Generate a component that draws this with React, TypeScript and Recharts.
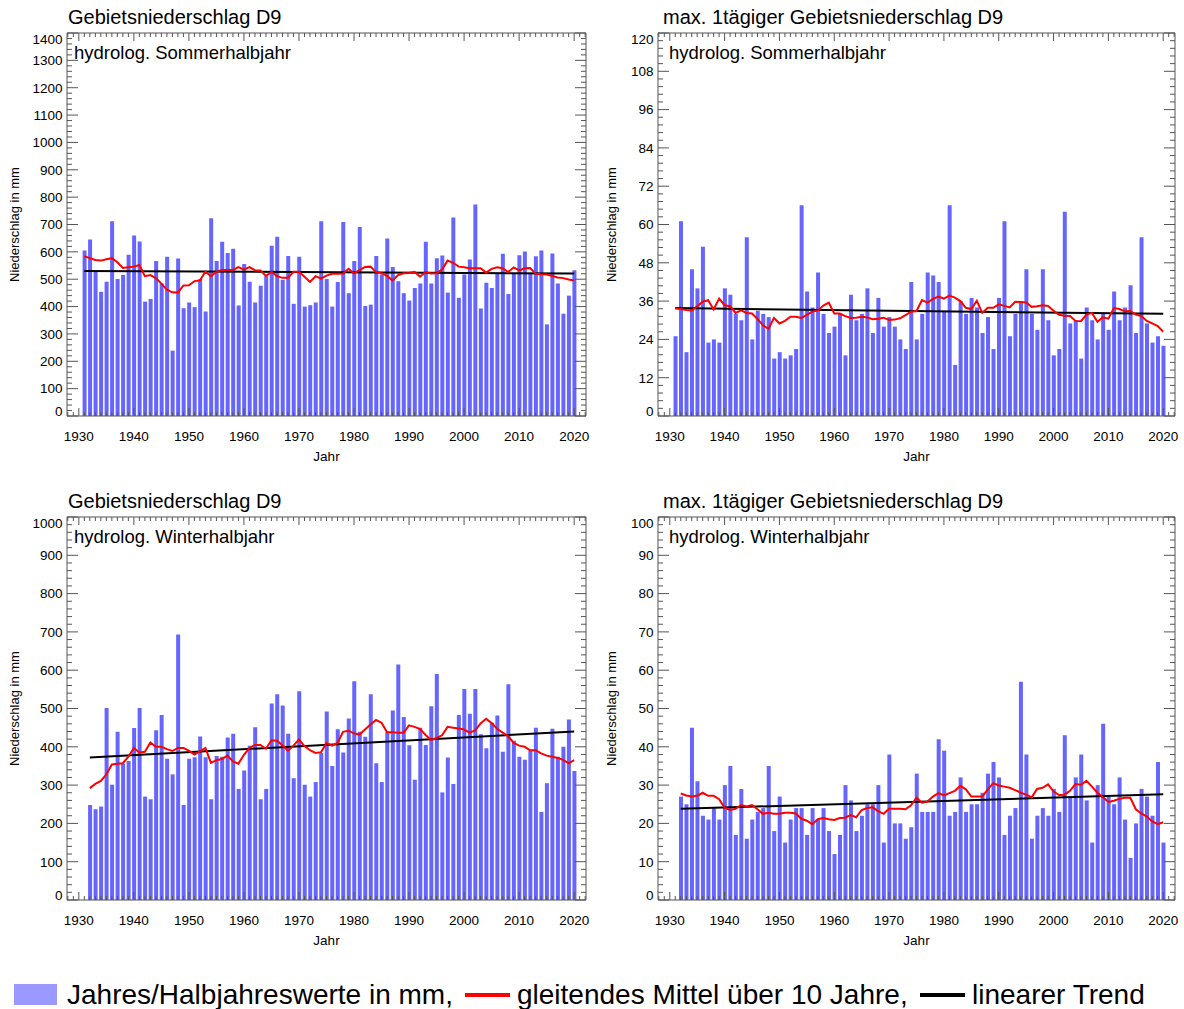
import React from "react";
import { ComposedChart, Bar, Line, XAxis, YAxis } from "recharts";

const FONT = '"Liberation Sans", Arial, Helvetica, sans-serif';
const BAR = "#6666ff";
const AXIS = "#555555";
const X_DOMAIN: [number, number] = [1927.85, 2022.15];

// Sommerhalbjahr 1931-2020
const SUMMER_START = 1931;
const summerTotal = [
  605, 645, 526, 454, 491, 712, 501, 515, 589, 660,
  638, 418, 428, 567, 485, 582, 239, 576, 394, 415,
  398, 501, 382, 723, 567, 637, 596, 611, 404, 556,
  491, 415, 476, 511, 622, 655, 498, 585, 410, 582,
  400, 405, 415, 712, 501, 400, 490, 709, 449, 567,
  691, 402, 407, 585, 517, 649, 545, 493, 449, 422,
  468, 484, 637, 484, 577, 587, 451, 726, 432, 517,
  572, 773, 393, 487, 468, 520, 593, 446, 520, 588,
  601, 520, 584, 605, 335, 594, 484, 374, 440, 533,
];
const summerTotalMean = [
  584, 577, 570, 568, 573, 577, 562, 541, 544, 546,
  552, 511, 515, 504, 484, 462, 452, 451, 477, 478,
  493, 495, 528, 511, 527, 534, 534, 534, 544, 535,
  544, 533, 532, 512, 527, 511, 505, 505, 527, 527,
  509, 490, 511, 502, 513, 520, 520, 521, 538, 521,
  533, 545, 546, 526, 522, 512, 495, 515, 522, 523,
  527, 509, 526, 521, 522, 535, 568, 560, 546, 544,
  540, 540, 540, 524, 538, 544, 540, 526, 543, 532,
  540, 541, 520, 518, 517, 512, 506, 504, 499, 495,
];
const summerTotalTrend = [530, 521];

const summerMax = [
  25, 61, 20, 46, 40, 53, 23, 24, 23, 40,
  38, 32, 30, 56, 24, 33, 32, 31, 18, 20,
  18, 19, 21, 66, 39, 34, 45, 32, 26, 28,
  32, 19, 38, 30, 32, 40, 26, 37, 28, 31,
  28, 24, 21, 42, 24, 32, 45, 44, 42, 33,
  66, 16, 36, 32, 37, 34, 26, 31, 21, 37,
  61, 25, 32, 36, 46, 32, 27, 46, 30, 19,
  21, 64, 29, 30, 18, 34, 30, 24, 32, 27,
  39, 30, 34, 41, 26, 56, 29, 23, 25, 22,
];
const summerMaxMean = [
  33.7, 33.5, 33.2, 33.1, 34.4, 35.8, 36.3, 33.4, 36.8, 34.7,
  34.4, 32.3, 33.1, 32.3, 32.1, 30.4, 28.4, 27.3, 30.7, 29.0,
  29.8, 31.1, 31.1, 30.7, 31.7, 32.7, 33.0, 34.6, 35.5, 32.1,
  32.1, 31.3, 30.7, 30.8, 31.1, 30.9, 30.3, 30.5, 30.8, 30.1,
  30.2, 30.6, 31.6, 32.7, 32.9, 36.3, 35.5, 36.7, 37.4, 36.8,
  37.7, 37.1, 36.0, 33.9, 33.5, 36.1, 32.3, 33.9, 33.9, 35.0,
  34.5, 34.0, 35.8, 35.7, 35.6, 34.2, 34.4, 34.7, 34.5, 33.0,
  31.7, 31.4, 31.3, 29.8, 29.7, 31.8, 32.3, 29.5, 30.9, 30.5,
  33.8, 33.5, 32.8, 32.9, 31.8, 31.3, 29.8, 29.0, 28.2, 26.4,
];
const summerMaxTrend = [33.8, 32.0];

// Winterhalbjahr 1932-2020
const WINTER_START = 1932;
const winterTotal = [
  248, 237, 244, 501, 301, 439, 356, 363, 449, 501,
  270, 263, 443, 483, 369, 328, 693, 248, 369, 373,
  427, 373, 263, 376, 374, 424, 434, 290, 338, 403,
  451, 263, 290, 513, 537, 508, 434, 318, 545, 301,
  270, 308, 384, 492, 350, 446, 385, 474, 571, 439,
  426, 537, 357, 308, 438, 495, 615, 478, 404, 314,
  450, 405, 506, 590, 281, 372, 303, 483, 551, 486,
  551, 433, 396, 463, 482, 387, 563, 416, 374, 366,
  391, 450, 230, 305, 447, 374, 400, 471, 337,
];
const winterTotalMean = [
  292, 303, 311, 328, 354, 356, 357, 374, 397, 385,
  387, 411, 400, 400, 394, 389, 397, 397, 390, 380,
  388, 397, 358, 365, 368, 377, 362, 356, 379, 397,
  405, 405, 395, 417, 416, 404, 390, 403, 419, 402,
  391, 384, 386, 410, 403, 410, 439, 442, 435, 432,
  445, 458, 470, 463, 438, 438, 437, 437, 456, 452,
  446, 431, 418, 423, 430, 452, 450, 448, 445, 437,
  443, 461, 473, 462, 447, 437, 428, 410, 403, 400,
  391, 391, 383, 377, 374, 371, 366, 357, 365,
];
const winterTotalTrend = [372, 440];

const winterMax = [
  27, 25, 45, 31, 22, 21, 24, 21, 30, 35,
  17, 29, 16, 21, 23, 24, 35, 18, 27, 15,
  21, 24, 24, 17, 24, 21, 24, 18, 12, 17,
  30, 26, 18, 22, 25, 25, 30, 15, 38, 20,
  20, 16, 19, 33, 23, 23, 23, 42, 39, 22,
  23, 32, 23, 25, 25, 28, 33, 36, 32, 17,
  22, 24, 57, 38, 16, 22, 24, 22, 29, 23,
  43, 27, 32, 38, 26, 15, 30, 46, 27, 25,
  32, 21, 11, 20, 29, 27, 22, 36, 15,
];
const winterMaxMean = [
  27.8, 27.3, 27.0, 27.2, 28.0, 27.2, 27.2, 26.3, 24.1, 23.5,
  23.8, 24.8, 24.4, 24.8, 23.7, 22.5, 22.8, 22.5, 22.5, 22.8,
  22.8, 22.6, 21.2, 20.7, 19.8, 21.1, 21.4, 21.1, 20.9, 21.4,
  21.5, 22.2, 21.6, 23.5, 24.0, 24.2, 23.2, 22.5, 23.8, 23.8,
  23.8, 23.7, 24.7, 26.7, 25.4, 25.7, 27.0, 27.9, 27.3, 27.9,
  28.5, 29.8, 28.9, 27.0, 27.0, 27.0, 28.9, 30.5, 29.9, 29.6,
  29.3, 28.7, 28.0, 27.5, 26.8, 29.0, 29.3, 30.2, 28.3, 27.4,
  27.5, 28.5, 30.3, 30.1, 31.1, 29.6, 28.0, 26.8, 25.6, 25.9,
  26.4, 26.7, 26.7, 23.7, 22.6, 21.8, 20.5, 19.8, 20.3,
];
const winterMaxTrend = [23.8, 27.6];

// one tick per year on the frame, labelled every decade
const YEAR_TICKS = Array.from({ length: 95 }, (_, i) => 1928 + i);

const PAD_L = 60;
const PAD_T = 10;
const PAD_R = 10;
const PAD_B = 40;
const EDGE = 1; // thickness reserved for top axis and right axis

type PanelProps = {
  plotLeft: number;
  plotTop: number;
  plotWidth: number;
  plotHeight: number;
  startYear: number;
  values: number[];
  mean: number[];
  trend: number[];
  yMax: number;
  yMajor: number;
  yMinor: number;
};

function Panel(p: PanelProps) {
  const last = p.values.length - 1;
  const rows = p.values.map((v, i) => ({
    year: p.startYear + i,
    value: v,
    mean: p.mean[i],
    trend: i === 0 ? p.trend[0] : i === last ? p.trend[1] : null,
  }));
  const nY = Math.round(p.yMax / p.yMinor);
  const yTicks = Array.from({ length: nY + 1 }, (_, i) => +(i * p.yMinor).toFixed(4));
  const isMajorY = (v: number) => Math.abs(v / p.yMajor - Math.round(v / p.yMajor)) < 1e-6;

  const bottomTick = (props: any) => {
    const { x, y, payload } = props;
    const major = payload.value % 10 === 0;
    return (
      <g>
        <line x1={x} x2={x} y1={y} y2={y - (major ? 8 : 4)} stroke={AXIS} />
        {major && (
          <text x={x} y={y + 25} textAnchor="middle" fontSize={13.5} fontFamily={FONT} fill="#000">
            {payload.value}
          </text>
        )}
      </g>
    );
  };
  const topTick = (props: any) => {
    const { x, y, payload } = props;
    const major = payload.value % 10 === 0;
    return <line x1={x} x2={x} y1={y} y2={y + (major ? 8 : 4)} stroke={AXIS} />;
  };
  const leftTick = (props: any) => {
    const { x, y, payload } = props;
    const v = payload.value as number;
    const major = isMajorY(v);
    // end labels are pulled inside the frame
    const shift = v === 0 ? -5 : Math.abs(v - p.yMax) < 1e-6 ? 6 : 0;
    return (
      <g>
        <line x1={x} x2={x + (major ? 11 : 5)} y1={y} y2={y} stroke={AXIS} />
        {major && (
          <text x={x - 4.5} y={y + 4.8 + shift} textAnchor="end" fontSize={13.5} fontFamily={FONT} fill="#000">
            {Math.round(v)}
          </text>
        )}
      </g>
    );
  };
  const rightTick = (props: any) => {
    const { x, y, payload } = props;
    const major = isMajorY(payload.value);
    return <line x1={x} x2={x - (major ? 11 : 5)} y1={y} y2={y} stroke={AXIS} />;
  };

  return (
    <div style={{ position: "absolute", left: p.plotLeft - PAD_L, top: p.plotTop - PAD_T }}>
      <ComposedChart
        width={p.plotWidth + PAD_L + PAD_R}
        height={p.plotHeight + PAD_T + PAD_B}
        data={rows}
        margin={{ top: PAD_T - EDGE, right: PAD_R - EDGE, bottom: PAD_B - EDGE, left: 0 }}
      >
        <XAxis
          xAxisId="b"
          dataKey="year"
          type="number"
          domain={X_DOMAIN}
          allowDataOverflow
          ticks={YEAR_TICKS}
          interval={0}
          height={EDGE}
          tickSize={0}
          tickMargin={0}
          tickLine={false}
          axisLine={{ stroke: AXIS }}
          tick={bottomTick}
        />
        <XAxis
          xAxisId="t"
          orientation="top"
          dataKey="year"
          type="number"
          domain={X_DOMAIN}
          allowDataOverflow
          ticks={YEAR_TICKS}
          interval={0}
          height={EDGE}
          tickSize={0}
          tickMargin={0}
          tickLine={false}
          axisLine={{ stroke: AXIS }}
          tick={topTick}
        />
        <YAxis
          yAxisId="l"
          type="number"
          domain={[0, p.yMax]}
          allowDataOverflow
          ticks={yTicks}
          interval={0}
          width={PAD_L}
          tickSize={0}
          tickMargin={0}
          tickLine={false}
          axisLine={{ stroke: AXIS }}
          tick={leftTick}
        />
        <YAxis
          yAxisId="r"
          orientation="right"
          type="number"
          domain={[0, p.yMax]}
          allowDataOverflow
          ticks={yTicks}
          interval={0}
          width={EDGE}
          tickSize={0}
          tickMargin={0}
          tickLine={false}
          axisLine={{ stroke: AXIS }}
          tick={rightTick}
        />
        <Bar xAxisId="b" yAxisId="l" dataKey="value" fill={BAR} barSize={4} isAnimationActive={false} />
        <Line
          xAxisId="b"
          yAxisId="l"
          dataKey="trend"
          stroke="#000"
          strokeWidth={2}
          dot={false}
          connectNulls
          isAnimationActive={false}
        />
        <Line
          xAxisId="b"
          yAxisId="l"
          dataKey="mean"
          stroke="#ff0000"
          strokeWidth={2}
          dot={false}
          isAnimationActive={false}
        />
      </ComposedChart>
    </div>
  );
}

function PanelText({ x0, y0, title, season }: { x0: number; y0: number; title: string; season: string }) {
  return (
    <g fontFamily={FONT} fill="#000">
      <text x={x0 + 1} y={y0 - 9} fontSize={20}>{title}</text>
      <text x={x0 + 7} y={y0 + 26} fontSize={18.5}>{season}</text>
    </g>
  );
}

export default function App() {
  const left1 = 67;
  const left2 = 658;
  const top1 = 33;
  const top2 = 517;
  const h = 383;
  return (
    <div style={{ position: "absolute", left: 0, top: 0, width: 1184, height: 1009, background: "#fff", overflow: "hidden" }}>
      <Panel plotLeft={left1} plotTop={top1} plotWidth={519} plotHeight={h} startYear={SUMMER_START}
        values={summerTotal} mean={summerTotalMean} trend={summerTotalTrend} yMax={1400} yMajor={100} yMinor={20} />
      <Panel plotLeft={left2} plotTop={top1} plotWidth={517} plotHeight={h} startYear={SUMMER_START}
        values={summerMax} mean={summerMaxMean} trend={summerMaxTrend} yMax={120} yMajor={12} yMinor={2.4} />
      <Panel plotLeft={left1} plotTop={top2} plotWidth={519} plotHeight={h} startYear={WINTER_START}
        values={winterTotal} mean={winterTotalMean} trend={winterTotalTrend} yMax={1000} yMajor={100} yMinor={20} />
      <Panel plotLeft={left2} plotTop={top2} plotWidth={517} plotHeight={h} startYear={WINTER_START}
        values={winterMax} mean={winterMaxMean} trend={winterMaxTrend} yMax={100} yMajor={10} yMinor={2} />

      <svg width={1184} height={1009} style={{ position: "absolute", left: 0, top: 0, pointerEvents: "none" }}>
        <PanelText x0={left1} y0={top1} title="Gebietsniederschlag D9" season="hydrolog. Sommerhalbjahr" />
        <PanelText x0={left2 + 4} y0={top1} title="max. 1tägiger Gebietsniederschlag D9" season="hydrolog. Sommerhalbjahr" />
        <PanelText x0={left1} y0={top2} title="Gebietsniederschlag D9" season="hydrolog. Winterhalbjahr" />
        <PanelText x0={left2 + 4} y0={top2} title="max. 1tägiger Gebietsniederschlag D9" season="hydrolog. Winterhalbjahr" />

        <g fontFamily={FONT} fontSize={13} fill="#000" textAnchor="middle">
          <text transform={`translate(18.5, ${top1 + h / 2}) rotate(-90)`}>Niederschlag in mm</text>
          <text transform={`translate(615.5, ${top1 + h / 2}) rotate(-90)`}>Niederschlag in mm</text>
          <text transform={`translate(18.5, ${top2 + h / 2}) rotate(-90)`}>Niederschlag in mm</text>
          <text transform={`translate(615.5, ${top2 + h / 2}) rotate(-90)`}>Niederschlag in mm</text>
          <text x={left1 + 519 / 2} y={top1 + h + 45} fontSize={13.5}>Jahr</text>
          <text x={left2 + 517 / 2} y={top1 + h + 45} fontSize={13.5}>Jahr</text>
          <text x={left1 + 519 / 2} y={top2 + h + 45} fontSize={13.5}>Jahr</text>
          <text x={left2 + 517 / 2} y={top2 + h + 45} fontSize={13.5}>Jahr</text>
        </g>

        <g fontFamily={FONT} fontSize={28} fill="#000">
          <rect x={14} y={984} width={43} height={21} fill="#9999ff" />
          <text x={67} y={1004}>Jahres/Halbjahreswerte in mm,</text>
          <line x1={465} x2={510} y1={995} y2={995} stroke="#ff0000" strokeWidth={4} />
          <text x={517} y={1004}>gleitendes Mittel über 10 Jahre,</text>
          <line x1={920} x2={965} y1={995} y2={995} stroke="#000" strokeWidth={4} />
          <text x={972} y={1004}>linearer Trend</text>
        </g>
      </svg>
    </div>
  );
}
